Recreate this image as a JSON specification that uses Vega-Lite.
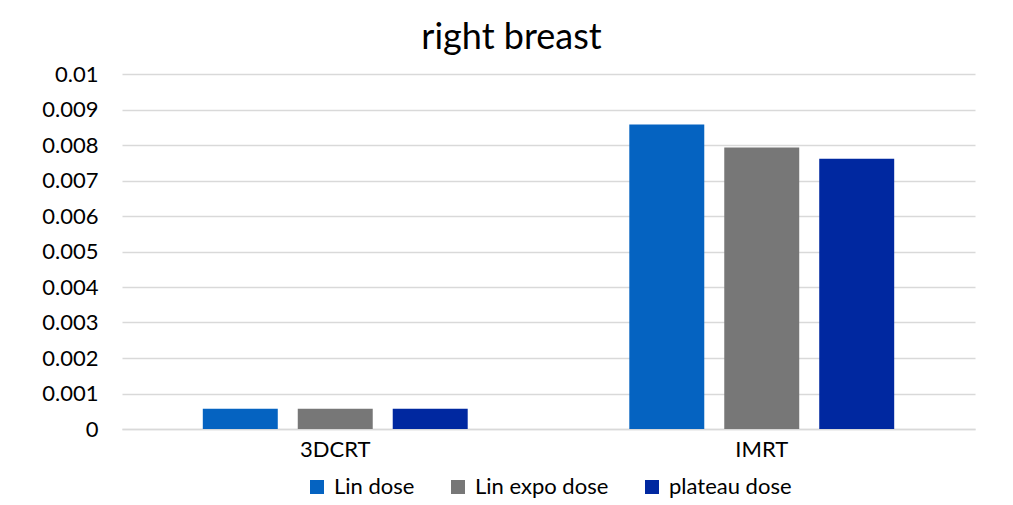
{
  "$schema": "https://vega.github.io/schema/vega-lite/v6.json",
  "width": 853,
  "height": 355,
  "autosize": {"type": "none"},
  "padding": {"left": 122, "top": 74, "right": 38, "bottom": 76},
  "background": "white",
  "title": {"text": "right breast", "font": "Lato", "fontSize": 36, "fontWeight": "normal", "color": "#000000", "anchor": "middle", "offset": 6, "dx": -37},
  "data": {
    "values": [
      {"technique": "3DCRT", "series": "Lin dose", "value": 0.00057},
      {"technique": "3DCRT", "series": "Lin expo dose", "value": 0.00057},
      {"technique": "3DCRT", "series": "plateau dose", "value": 0.00057},
      {"technique": "IMRT", "series": "Lin dose", "value": 0.00858},
      {"technique": "IMRT", "series": "Lin expo dose", "value": 0.00793},
      {"technique": "IMRT", "series": "plateau dose", "value": 0.00761}
    ]
  },
  "mark": {"type": "bar"},
  "encoding": {
    "x": {
      "field": "technique", "type": "nominal",
      "scale": {"paddingInner": 0.332, "paddingOuter": 0.166},
      "axis": {"title": null, "labelAngle": 0, "labelFont": "Lato", "labelFontSize": 22, "labelColor": "#000000", "labelPadding": 10, "ticks": false, "domainColor": "#D9D9D9", "domainWidth": 1.5}
    },
    "xOffset": {
      "field": "series", "type": "nominal",
      "scale": {"paddingInner": 0.2105, "paddingOuter": 0.1053}
    },
    "y": {
      "field": "value", "type": "quantitative",
      "scale": {"domain": [0, 0.01], "nice": false},
      "axis": {"title": null, "values": [0, 0.001, 0.002, 0.003, 0.004, 0.005, 0.006, 0.007, 0.008, 0.009, 0.01], "format": "~g", "labelFont": "Lato", "labelFontSize": 22, "labelColor": "#000000", "labelPadding": 24, "ticks": false, "domain": false, "gridColor": "#D9D9D9", "gridWidth": 1.5}
    },
    "color": {
      "field": "series", "type": "nominal",
      "scale": {"domain": ["Lin dose", "Lin expo dose", "plateau dose"], "range": ["#0563C1", "#777777", "#0028A0"]},
      "legend": {"title": null, "orient": "bottom", "direction": "horizontal", "symbolType": "square", "symbolSize": 196, "symbolStrokeWidth": 0, "labelFont": "Lato", "labelFontSize": 22, "labelColor": "#000000", "labelOffset": 6, "columnPadding": 32, "offset": 16}
    }
  },
  "config": {"view": {"stroke": null}, "legend": {"layout": {"bottom": {"anchor": "middle"}}}}
}
